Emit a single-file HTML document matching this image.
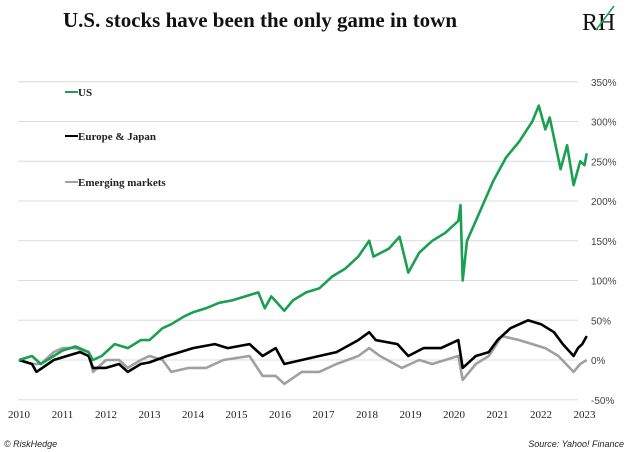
<!DOCTYPE html>
<html><head><meta charset="utf-8"><style>
body{margin:0;background:#fff;}
svg{display:block;}
</style></head><body>
<svg id="chart" width="630" height="452" xmlns="http://www.w3.org/2000/svg">
<text x="260" y="27" text-anchor="middle" font-family="Liberation Serif, serif" font-weight="bold" font-size="21" fill="#111" textLength="394" lengthAdjust="spacingAndGlyphs">U.S. stocks have been the only game in town</text>
<g>
<text x="582" y="30" font-family="Liberation Serif, serif" font-size="24" fill="#111">RH</text>
<line x1="596" y1="30" x2="614" y2="6" stroke="#1aa050" stroke-width="1.5"/>
</g>
<g id="grid"></g>
<g id="yt"></g>
<g id="xt"></g>
<g id="series"></g>
<g font-family="Liberation Serif, serif" font-weight="bold" font-size="11" fill="#222">
<line x1="65" y1="92" x2="78" y2="92" stroke="#1aa050" stroke-width="2"/>
<text x="78" y="96">US</text>
<line x1="65" y1="136" x2="78" y2="136" stroke="#000" stroke-width="2"/>
<text x="78" y="140">Europe &amp; Japan</text>
<line x1="65" y1="182" x2="78" y2="182" stroke="#a0a0a0" stroke-width="2"/>
<text x="78" y="186">Emerging markets</text>
</g>
<text x="4" y="447" font-family="Liberation Sans, sans-serif" font-style="italic" font-size="9" fill="#222">© RiskHedge</text>
<text x="624" y="447" text-anchor="end" font-family="Liberation Sans, sans-serif" font-style="italic" font-size="9" fill="#222">Source: Yahoo! Finance</text>
</svg>
<script>
const yTicks=[350,300,250,200,150,100,50,0,-50];
const xYears=[2010,2011,2012,2013,2014,2015,2016,2017,2018,2019,2020,2021,2022,2023];
const usT=[2010,2010.3,2010.5,2010.8,2011,2011.3,2011.6,2011.7,2011.9,2012.2,2012.5,2012.8,2013,2013.3,2013.5,2013.8,2014,2014.3,2014.6,2014.9,2015.2,2015.5,2015.65,2015.8,2016.1,2016.3,2016.6,2016.9,2017.2,2017.5,2017.8,2018.05,2018.15,2018.5,2018.75,2018.95,2019.2,2019.5,2019.8,2020.1,2020.15,2020.2,2020.3,2020.5,2020.7,2020.9,2021.2,2021.5,2021.8,2021.95,2022.1,2022.2,2022.45,2022.6,2022.75,2022.9,2023,2023.05];
const usV=[0,5,-5,5,12,17,10,0,5,20,15,25,25,40,45,55,60,65,72,75,80,85,65,80,62,75,85,90,105,115,130,150,130,140,155,110,135,150,160,175,195,100,150,175,200,225,255,275,300,320,290,305,240,270,220,250,245,260];
const euT=[2010,2010.3,2010.4,2010.8,2011.1,2011.4,2011.6,2011.7,2012,2012.3,2012.5,2012.8,2013,2013.4,2013.7,2014,2014.5,2014.8,2015.3,2015.6,2015.9,2016.1,2016.5,2016.9,2017.3,2017.8,2018.05,2018.2,2018.7,2018.95,2019.3,2019.7,2020.1,2020.2,2020.5,2020.8,2021,2021.3,2021.7,2022,2022.3,2022.5,2022.75,2022.85,2022.95,2023.05];
const euV=[0,-5,-15,0,5,10,5,-10,-10,-5,-15,-5,-3,5,10,15,20,15,20,5,15,-5,0,5,10,25,35,25,20,5,15,15,25,-10,5,10,25,40,50,45,35,20,5,15,20,30];
const emT=[2010,2010.3,2010.5,2010.8,2011,2011.3,2011.6,2011.7,2012,2012.3,2012.5,2012.8,2013,2013.3,2013.5,2013.9,2014.3,2014.7,2015.3,2015.6,2015.9,2016.1,2016.5,2016.9,2017.3,2017.8,2018.05,2018.3,2018.8,2019.2,2019.5,2019.8,2020.1,2020.2,2020.5,2020.8,2021.1,2021.5,2021.8,2022.1,2022.4,2022.75,2022.9,2023.05];
const emV=[0,-5,-5,10,15,15,10,-15,0,0,-10,0,5,0,-15,-10,-10,0,5,-20,-20,-30,-15,-15,-5,5,15,5,-10,0,-5,0,5,-25,-5,5,30,25,20,15,5,-15,-5,0];
const NS="http://www.w3.org/2000/svg";
const x=t=>19+(t-2010)*43.5;
const y=v=>360-v*0.795;
const G=id=>document.getElementById(id);
function mk(tag,attrs,parent){const e=document.createElementNS(NS,tag);for(const k in attrs)e.setAttribute(k,attrs[k]);parent.appendChild(e);return e;}
yTicks.forEach(v=>{
  const l=mk('line',{x1:18,x2:578,y1:y(v),y2:y(v),stroke:'#dcdcdc','stroke-width':1},G('grid'));
  
  
  const t=mk('text',{x:591,y:y(v)+4,'font-family':'Liberation Sans, sans-serif','font-size':10,fill:'#444'},G('yt'));
  t.textContent=v+'%';
  
  
});
xYears.forEach(yr=>{
  const t=mk('text',{x:x(yr),y:418,'text-anchor':'middle','font-family':'Liberation Serif, serif','font-size':11,fill:'#222'},G('xt'));
  t.textContent=yr;
  
  
});
function line(T,V,color,name){
  const d=T.map((t,i)=>(i?'L':'M')+x(t).toFixed(1)+' '+y(V[i]).toFixed(1)).join(' ');
  const p=mk('path',{d:d,fill:'none',stroke:color,'stroke-width':2.6,'stroke-linejoin':'round'},G('series'));
  
  
}
line(emT,emV,'#a0a0a0','emerging-markets-line');
line(euT,euV,'#000','europe-japan-line');
line(usT,usV,'#1aa050','us-line');
</script>
</body></html>
